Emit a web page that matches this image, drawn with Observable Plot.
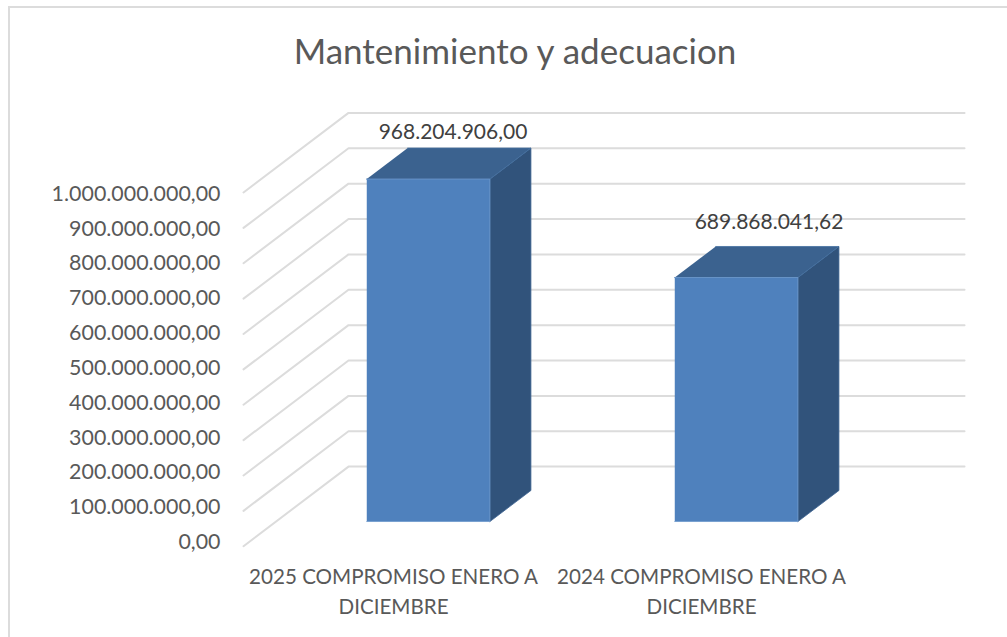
<!DOCTYPE html>
<html>
<head>
<meta charset="utf-8">
<script src="https://cdn.jsdelivr.net/npm/d3@7"></script>
<script src="https://cdn.jsdelivr.net/npm/@observablehq/plot@0.6"></script>
<style>
html,body{margin:0;padding:0;background:#fff;overflow:hidden}
#frame{position:absolute;left:8px;top:6px;width:1010px;height:640px;border:2px solid #dcdcdc;box-sizing:border-box}
#title{position:absolute;left:0;top:28px;width:1030px;text-align:center;font:35px Lato,sans-serif;color:#595959;line-height:44px}
#chart{position:absolute;left:0;top:0}
</style>
</head>
<body>
<div id="chart"></div>
<div id="frame"></div>
<div id="title">Mantenimiento y adecuacion</div>
<script>
const titleText = "Mantenimiento y adecuacion";
const categories = ["2025 COMPROMISO ENERO A\nDICIEMBRE", "2024 COMPROMISO ENERO A\nDICIEMBRE"];
const values = [968204906.00, 689868041.62];
const valueLabels = ["968.204.906,00", "689.868.041,62"];
const ticks = [0,100000000,200000000,300000000,400000000,500000000,600000000,700000000,800000000,900000000,1000000000];
const tickLabels = ["0,00","100.000.000,00","200.000.000,00","300.000.000,00","400.000.000,00","500.000.000,00","600.000.000,00","700.000.000,00","800.000.000,00","900.000.000,00","1.000.000.000,00"];

// Oblique projection: depth 0 = front of the floor, depth 1 = back wall
const depthX = 0.341;          // categories per unit of depth
const depthY = 2.25e8;         // value units per unit of depth
const barHalf = 0.2;           // half a bar width, in categories
const barShift = -0.0055;      // bars sit a little left of the category centre
const barFront = 0.31, barBack = 0.70;
const tickSpread = 0.985;      // tick labels are spaced slightly tighter than the gridlines
const px = (cat, d) => cat + d * depthX;
const py = (v, d) => v + d * depthY;
const pt = (id, cat, v, d) => ({id, x: px(cat, d), y: py(v, d)});

const grid = ticks.flatMap((t, i) => [
  pt(i, 0, t, 0), pt(i, 0, t, 1), pt(i, 2, t, 1)
]);

const front = [], side = [], top_ = [];
values.forEach((v, i) => {
  const c = i + 0.5 + barShift, a = c - barHalf, b = c + barHalf;
  front.push(pt(i,a,0,barFront), pt(i,b,0,barFront), pt(i,b,v,barFront), pt(i,a,v,barFront));
  side.push(pt(i,b,0,barFront), pt(i,b,0,barBack), pt(i,b,v,barBack), pt(i,b,v,barFront));
  top_.push(pt(i,a,v,barFront), pt(i,b,v,barFront), pt(i,b,v,barBack), pt(i,a,v,barBack));
});
const labelOffsets = [{dx:-18, dy:-16}, {dx:-10, dy:-24}];
const tickData = ticks.map((t, i) => ({x: 0, y: t * tickSpread, text: tickLabels[i]}));
const catData = categories.map((c, i) => ({x: i + 0.5, y: 0, text: c}));

const font = "Lato, sans-serif";
const face = (data, fill, stroke) => Plot.line(data, {x:"x", y:"y", z:"id", fill, stroke, strokeWidth:0.8});

const chart = Plot.plot({
  width: 1007, height: 637,
  margin: 0,
  style: {background:"transparent", fontFamily: font},
  x: {domain:[0,2], range:[243,859], axis:null},
  y: {domain:[0,1e9], range:[545.7,192], axis:null},
  marks: [
    Plot.line(grid, {x:"x", y:"y", z:"id", stroke:"#dcdcdc", strokeWidth:2}),
    face(side, "#31537b", "#3f6593"),
    face(top_, "#3b628f", "#44709f"),
    face(front, "#4f81bd", "#6d98cc"),
    Plot.text(tickData, {x:"x", y:"y", text:"text", textAnchor:"end", dx:-23, dy:-4, fontSize:21.4, fill:"#595959"}),
    Plot.text(catData, {x:"x", y:"y", text:"text", textAnchor:"middle", lineAnchor:"top", dx:-4, dy:17, fontSize:20.6, lineHeight:1.456, fill:"#595959"}),
    ...values.map((v, i) => Plot.text([{x: px(i + 0.5, barBack), y: py(v, barBack), text: valueLabels[i]}], {
      x:"x", y:"y", text:"text", textAnchor:"middle", fontSize:21, fill:"#404040", ...labelOffsets[i]
    }))
  ]
});
document.getElementById("chart").append(chart);
document.getElementById("title").textContent = titleText;
</script>
</body>
</html>
